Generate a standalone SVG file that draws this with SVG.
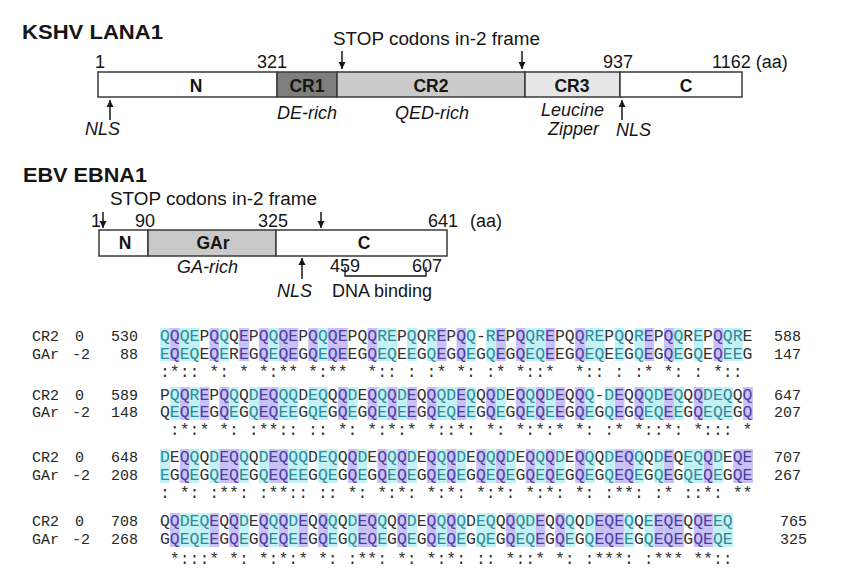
<svg xmlns="http://www.w3.org/2000/svg" xmlns:xlink="http://www.w3.org/1999/xlink" width="849" height="588" viewBox="0 0 849 588">
<style>
.t{font-family:"Liberation Sans",Arial,sans-serif;fill:#151515}
.ttl{font-size:19.5px;font-weight:bold}
.lb{font-size:18px}
.it{font-style:italic}
.bl{font-size:17.5px;font-weight:bold;text-anchor:middle}
.box{stroke:#3a3a3a;stroke-width:1.5}
.white{fill:#ffffff}
.cr1{fill:#7e7e7e}
.cr2{fill:#cbcbcb}
.cr3{fill:#e6e6e6}
.gar{fill:#c9c9c9}
.arr{fill:none;stroke:#151515;stroke-width:1.5;marker-end:url(#ah)}
.brk{fill:none;stroke:#151515;stroke-width:1.3}
.seq{font-family:"Liberation Mono","Courier New",monospace;font-size:16.47px}
.lab{font-family:"Liberation Mono","Courier New",monospace;font-size:15px;fill:#262626}
.cons{font-family:"Liberation Mono","Courier New",monospace;font-size:16.47px;fill:#333333;white-space:pre}
.bgS{fill:#c9c1f3}
.bgC{fill:#c3f1f4}
.fS{fill:#4a3ea6}
.fC{fill:#2e8a98}
.fN{fill:#333333}
</style>
<defs>
<marker id="ah" viewBox="0 0 10 10" refX="10" refY="5" markerWidth="7" markerHeight="8" markerUnits="userSpaceOnUse" orient="auto"><path d="M0,0 L10,5 L0,10 z" fill="#151515"/></marker>
<text id="r1a" class="seq" x="160" y="341">QQQEPQQQEPQQQEPQQQEPQQREPQQREPQQ-REPQQREPQQREPQQREPQQREPQQRE</text>
<text id="r1b" class="seq" x="160" y="358.7">EQEQEQEREGQEQEGQEQEEGQEQEEG<tspan>QEGQEGQEGQEQEEGQEQEEGQEGQEGQEQEEG</tspan></text>
<text id="r2a" class="seq" x="160" y="399.7">PQQREPQQQDEQQQDEQQQDEQQQDEQQQDEQQQDEQQQDEQQQ-DEQQQDEQQQDEQQQ</text>
<text id="r2b" class="seq" x="160" y="417.4">QEQEEGQEGQEQEEGQEGQEGQEQEEG<tspan>QEQEEGQEGQEQEEGQEGQEGQEQEEGQEQEGQ</tspan></text>
<text id="r3a" class="seq" x="160" y="462">DEQQQDEQQQDEQQQDEQQQDEQQQDEQQQDEQQQDEQQQDEQQQDEQQQDEQEQQDEQE</text>
<text id="r3b" class="seq" x="160" y="480.4">EGQEGQEQEGQEQEEGQEGQEGQEQEGQEQEGQEQEGQEQEGQEGQEQEGQEGQEQEGQE</text>
<text id="r4a" class="seq" x="160" y="526">QQDEQEQQDEQQQDEQQQQDEQQQQDEQQQQDEQQQQDEQQQQDEQEQQEEQEQQEEQ</text>
<text id="r4b" class="seq" x="160" y="544.4">GQEQEEGQEGQEQEEGQEGQEQEGQEGQEQEGQEGQEQEGQEGQEQEEGQEQEGQEQE</text>
<clipPath id="k1s"><path transform="translate(160 0) scale(9.8835 1)" d="M1 318h1v52h-1zM5 318h1v52h-1zM8 318h1v52h-1zM10 318h1v52h-1zM12 318h2v52h-2zM15 318h1v52h-1zM17 318h2v52h-2zM21 318h1v52h-1zM28 318h1v52h-1zM30 318h1v52h-1zM34 318h1v52h-1zM36 318h1v52h-1zM39 318h1v52h-1zM42 318h1v52h-1zM49 318h1v52h-1zM51 318h1v52h-1zM56 318h1v52h-1z"/></clipPath>
<clipPath id="k1c"><path transform="translate(160 0) scale(9.8835 1)" d="M0 318h1v52h-1zM2 318h2v52h-2zM6 318h1v52h-1zM11 318h1v52h-1zM16 318h1v52h-1zM22 318h2v52h-2zM25 318h1v52h-1zM27 318h1v52h-1zM31 318h1v52h-1zM33 318h1v52h-1zM37 318h2v52h-2zM43 318h2v52h-2zM46 318h1v52h-1zM48 318h1v52h-1zM52 318h1v52h-1zM54 318h1v52h-1zM57 318h2v52h-2z"/></clipPath>
<clipPath id="k1n"><path transform="translate(160 0) scale(9.8835 1)" d="M4 318h1v52h-1zM7 318h1v52h-1zM9 318h1v52h-1zM14 318h1v52h-1zM19 318h2v52h-2zM24 318h1v52h-1zM26 318h1v52h-1zM29 318h1v52h-1zM32 318h1v52h-1zM35 318h1v52h-1zM40 318h2v52h-2zM45 318h1v52h-1zM47 318h1v52h-1zM50 318h1v52h-1zM53 318h1v52h-1zM55 318h1v52h-1zM59 318h1v52h-1z"/></clipPath>
<clipPath id="k2s"><path transform="translate(160 0) scale(9.8835 1)" d="M2 377h1v52h-1zM4 377h1v52h-1zM6 377h1v52h-1zM10 377h2v52h-2zM18 377h1v52h-1zM21 377h1v52h-1zM23 377h1v52h-1zM25 377h1v52h-1zM27 377h1v52h-1zM30 377h1v52h-1zM33 377h1v52h-1zM36 377h1v52h-1zM38 377h1v52h-1zM40 377h1v52h-1zM42 377h1v52h-1zM46 377h1v52h-1zM48 377h1v52h-1zM51 377h1v52h-1zM54 377h1v52h-1zM59 377h1v52h-1z"/></clipPath>
<clipPath id="k2c"><path transform="translate(160 0) scale(9.8835 1)" d="M1 377h1v52h-1zM3 377h1v52h-1zM7 377h1v52h-1zM9 377h1v52h-1zM12 377h2v52h-2zM15 377h2v52h-2zM19 377h1v52h-1zM22 377h1v52h-1zM24 377h1v52h-1zM28 377h2v52h-2zM31 377h1v52h-1zM34 377h1v52h-1zM37 377h1v52h-1zM39 377h1v52h-1zM43 377h1v52h-1zM45 377h1v52h-1zM49 377h2v52h-2zM52 377h1v52h-1zM55 377h3v52h-3z"/></clipPath>
<clipPath id="k2n"><path transform="translate(160 0) scale(9.8835 1)" d="M0 377h1v52h-1zM5 377h1v52h-1zM8 377h1v52h-1zM14 377h1v52h-1zM17 377h1v52h-1zM20 377h1v52h-1zM26 377h1v52h-1zM32 377h1v52h-1zM35 377h1v52h-1zM41 377h1v52h-1zM44 377h1v52h-1zM47 377h1v52h-1zM53 377h1v52h-1zM58 377h1v52h-1z"/></clipPath>
<clipPath id="k3s"><path transform="translate(160 0) scale(9.8835 1)" d="M2 439h1v52h-1zM6 439h2v52h-2zM11 439h2v52h-2zM19 439h1v52h-1zM22 439h1v52h-1zM24 439h1v52h-1zM27 439h1v52h-1zM29 439h1v52h-1zM32 439h1v52h-1zM34 439h1v52h-1zM37 439h1v52h-1zM39 439h1v52h-1zM42 439h1v52h-1zM46 439h2v52h-2zM51 439h1v52h-1zM55 439h1v52h-1zM58 439h2v52h-2z"/></clipPath>
<clipPath id="k3c"><path transform="translate(160 0) scale(9.8835 1)" d="M0 439h1v52h-1zM3 439h1v52h-1zM5 439h1v52h-1zM8 439h1v52h-1zM10 439h1v52h-1zM13 439h2v52h-2zM16 439h2v52h-2zM20 439h1v52h-1zM23 439h1v52h-1zM25 439h1v52h-1zM28 439h1v52h-1zM30 439h1v52h-1zM33 439h1v52h-1zM35 439h1v52h-1zM38 439h1v52h-1zM40 439h1v52h-1zM43 439h1v52h-1zM45 439h1v52h-1zM48 439h1v52h-1zM50 439h1v52h-1zM53 439h2v52h-2zM56 439h1v52h-1z"/></clipPath>
<clipPath id="k3n"><path transform="translate(160 0) scale(9.8835 1)" d="M1 439h1v52h-1zM4 439h1v52h-1zM9 439h1v52h-1zM15 439h1v52h-1zM18 439h1v52h-1zM21 439h1v52h-1zM26 439h1v52h-1zM31 439h1v52h-1zM36 439h1v52h-1zM41 439h1v52h-1zM44 439h1v52h-1zM49 439h1v52h-1zM52 439h1v52h-1zM57 439h1v52h-1z"/></clipPath>
<clipPath id="k4s"><path transform="translate(160 0) scale(9.8835 1)" d="M1 503h1v52h-1zM5 503h1v52h-1zM7 503h1v52h-1zM10 503h1v52h-1zM12 503h1v52h-1zM14 503h1v52h-1zM16 503h1v52h-1zM20 503h2v52h-2zM24 503h1v52h-1zM27 503h1v52h-1zM29 503h1v52h-1zM35 503h1v52h-1zM38 503h1v52h-1zM40 503h1v52h-1zM44 503h3v52h-3zM50 503h3v52h-3zM54 503h2v52h-2z"/></clipPath>
<clipPath id="k4c"><path transform="translate(160 0) scale(9.8835 1)" d="M2 503h3v52h-3zM8 503h1v52h-1zM11 503h1v52h-1zM13 503h1v52h-1zM17 503h1v52h-1zM19 503h1v52h-1zM22 503h1v52h-1zM25 503h1v52h-1zM28 503h1v52h-1zM30 503h1v52h-1zM32 503h2v52h-2zM36 503h2v52h-2zM41 503h1v52h-1zM43 503h1v52h-1zM47 503h1v52h-1zM49 503h1v52h-1zM56 503h2v52h-2z"/></clipPath>
<clipPath id="k4n"><path transform="translate(160 0) scale(9.8835 1)" d="M0 503h1v52h-1zM6 503h1v52h-1zM9 503h1v52h-1zM15 503h1v52h-1zM18 503h1v52h-1zM23 503h1v52h-1zM26 503h1v52h-1zM31 503h1v52h-1zM34 503h1v52h-1zM39 503h1v52h-1zM42 503h1v52h-1zM48 503h1v52h-1zM53 503h1v52h-1z"/></clipPath>
</defs>
<rect width="849" height="588" fill="#ffffff"/>

<!-- KSHV LANA1 -->
<g id="kshv-title"><text class="t ttl" x="22" y="39" textLength="141" lengthAdjust="spacingAndGlyphs">KSHV LANA1</text></g>
<g id="kshv-stop"><text class="t lb" x="333" y="45" textLength="207" lengthAdjust="spacingAndGlyphs">STOP codons in-2 frame</text></g>
<g id="kshv-positions" class="t lb">
<text x="95" y="68">1</text>
<text x="257" y="68">321</text>
<text x="603" y="68">937</text>
<text x="712" y="68">1162 (aa)</text>
</g>
<g id="lana-N"><rect class="box white" x="98" y="72" width="179" height="25"/><text class="t bl" x="196" y="92">N</text></g>
<g id="lana-CR1"><rect class="box cr1" x="277" y="72" width="60" height="25"/><text class="t bl" x="307" y="92">CR1</text></g>
<g id="lana-CR2"><rect class="box cr2" x="337" y="72" width="188" height="25"/><text class="t bl" x="431" y="92">CR2</text></g>
<g id="lana-CR3"><rect class="box cr3" x="525" y="72" width="95" height="25"/><text class="t bl" x="572" y="92">CR3</text></g>
<g id="lana-C"><rect class="box white" x="620" y="72" width="122" height="25"/><text class="t bl" x="686" y="92">C</text></g>
<g id="kshv-annotations" class="t lb it">
<text x="85" y="135">NLS</text>
<text x="277" y="119">DE-rich</text>
<text x="395" y="119">QED-rich</text>
<text x="541" y="116">Leucine</text>
<text x="548" y="135">Zipper</text>
<text x="616" y="136">NLS</text>
</g>

<!-- EBV EBNA1 -->
<g id="ebv-title"><text class="t ttl" x="23" y="182" textLength="124" lengthAdjust="spacingAndGlyphs">EBV EBNA1</text></g>
<g id="ebv-stop"><text class="t lb" x="110" y="205" textLength="207" lengthAdjust="spacingAndGlyphs">STOP codons in-2 frame</text></g>
<g id="ebv-positions" class="t lb">
<text x="91" y="227">1</text>
<text x="135" y="227">90</text>
<text x="258" y="227">325</text>
<text x="428" y="227">641</text>
<text x="470" y="227">(aa)</text>
</g>
<g id="ebna-N"><rect class="box white" x="99" y="230" width="49" height="26"/><text class="t bl" x="125" y="249">N</text></g>
<g id="ebna-GAr"><rect class="box gar" x="148" y="230" width="128" height="26"/><text class="t bl" x="213" y="249">GAr</text></g>
<g id="ebna-C"><rect class="box white" x="276" y="230" width="171" height="26"/><text class="t bl" x="364" y="249">C</text></g>
<g id="ebv-annotations" class="t lb">
<text class="it" x="177" y="273">GA-rich</text>
<text class="it" x="277" y="297">NLS</text>
<text x="330" y="272">459</text>
<text x="412" y="272">607</text>
<text x="332" y="297">DNA binding</text>
</g>

<g id="connectors">
<path class="arr" d="M342,51 V69"/>
<path class="arr" d="M522,51 V69"/>
<path class="arr" d="M110,120 V100"/>
<path class="arr" d="M622,120 V100"/>
<path class="arr" d="M103,212 V228"/>
<path class="arr" d="M321,212 V228"/>
<path class="arr" d="M302,279 V258"/>
<path class="brk" d="M345,267 V276 H426 V267"/>
</g>

<!-- Alignment block 1 -->
<g id="align-block1">
<rect class="bgS" x="160" y="328" width="594" height="33" clip-path="url(#k1s)"/>
<rect class="bgC" x="160" y="328" width="594" height="33" clip-path="url(#k1c)"/>
<g class="fS" clip-path="url(#k1s)"><use xlink:href="#r1a"/><use xlink:href="#r1b"/></g>
<g class="fC" clip-path="url(#k1c)"><use xlink:href="#r1a"/><use xlink:href="#r1b"/></g>
<g class="fN" clip-path="url(#k1n)"><use xlink:href="#r1a"/><use xlink:href="#r1b"/></g>
<text class="lab" x="32" y="341">CR2</text><text class="lab" x="75" y="341">0</text><text class="lab" x="138" y="341" text-anchor="end">530</text><text class="lab" x="774" y="341">588</text>
<text class="lab" x="32" y="358.7">GAr</text><text class="lab" x="72" y="358.7">-2</text><text class="lab" x="138" y="358.7" text-anchor="end">88</text><text class="lab" x="774" y="358.7">147</text>
<text class="cons" x="160" y="376.5" xml:space="preserve">:*:: *: * *:** *:**  *:: : :* *: :* *::*  *:: : :* *: : *:: </text>
</g>

<!-- Alignment block 2 -->
<g id="align-block2">
<rect class="bgS" x="160" y="387" width="594" height="33" clip-path="url(#k2s)"/>
<rect class="bgC" x="160" y="387" width="594" height="33" clip-path="url(#k2c)"/>
<g class="fS" clip-path="url(#k2s)"><use xlink:href="#r2a"/><use xlink:href="#r2b"/></g>
<g class="fC" clip-path="url(#k2c)"><use xlink:href="#r2a"/><use xlink:href="#r2b"/></g>
<g class="fN" clip-path="url(#k2n)"><use xlink:href="#r2a"/><use xlink:href="#r2b"/></g>
<text class="lab" x="32" y="399.7">CR2</text><text class="lab" x="75" y="399.7">0</text><text class="lab" x="138" y="399.7" text-anchor="end">589</text><text class="lab" x="774" y="399.7">647</text>
<text class="lab" x="32" y="417.4">GAr</text><text class="lab" x="72" y="417.4">-2</text><text class="lab" x="138" y="417.4" text-anchor="end">148</text><text class="lab" x="774" y="417.4">207</text>
<text class="cons" x="160" y="434.5" xml:space="preserve"> :*:* *: :**:: :: *: *:*:* *::*: *: *:*:* *: :* *::*: *::: *</text>
</g>

<!-- Alignment block 3 -->
<g id="align-block3">
<rect class="bgS" x="160" y="449" width="594" height="34" clip-path="url(#k3s)"/>
<rect class="bgC" x="160" y="449" width="594" height="34" clip-path="url(#k3c)"/>
<g class="fS" clip-path="url(#k3s)"><use xlink:href="#r3a"/><use xlink:href="#r3b"/></g>
<g class="fC" clip-path="url(#k3c)"><use xlink:href="#r3a"/><use xlink:href="#r3b"/></g>
<g class="fN" clip-path="url(#k3n)"><use xlink:href="#r3a"/><use xlink:href="#r3b"/></g>
<text class="lab" x="32" y="462">CR2</text><text class="lab" x="75" y="462">0</text><text class="lab" x="138" y="462" text-anchor="end">648</text><text class="lab" x="774" y="462">707</text>
<text class="lab" x="32" y="480.4">GAr</text><text class="lab" x="72" y="480.4">-2</text><text class="lab" x="138" y="480.4" text-anchor="end">208</text><text class="lab" x="774" y="480.4">267</text>
<text class="cons" x="160" y="498" xml:space="preserve">: *: :**: :**:: :: *: *:*: *:*: *:*: *:*: *: :**: :* ::*: **</text>
</g>

<!-- Alignment block 4 -->
<g id="align-block4">
<rect class="bgS" x="160" y="513" width="574" height="34" clip-path="url(#k4s)"/>
<rect class="bgC" x="160" y="513" width="574" height="34" clip-path="url(#k4c)"/>
<g class="fS" clip-path="url(#k4s)"><use xlink:href="#r4a"/><use xlink:href="#r4b"/></g>
<g class="fC" clip-path="url(#k4c)"><use xlink:href="#r4a"/><use xlink:href="#r4b"/></g>
<g class="fN" clip-path="url(#k4n)"><use xlink:href="#r4a"/><use xlink:href="#r4b"/></g>
<text class="lab" x="32" y="526">CR2</text><text class="lab" x="75" y="526">0</text><text class="lab" x="138" y="526" text-anchor="end">708</text><text class="lab" x="780" y="526">765</text>
<text class="lab" x="32" y="544.4">GAr</text><text class="lab" x="72" y="544.4">-2</text><text class="lab" x="138" y="544.4" text-anchor="end">268</text><text class="lab" x="780" y="544.4">325</text>
<text class="cons" x="160" y="563.5" xml:space="preserve"> *:::* *: *:*:* *: :**: *: *:*: :: *::* *: :***: :*** **::</text>
</g>
</svg>
